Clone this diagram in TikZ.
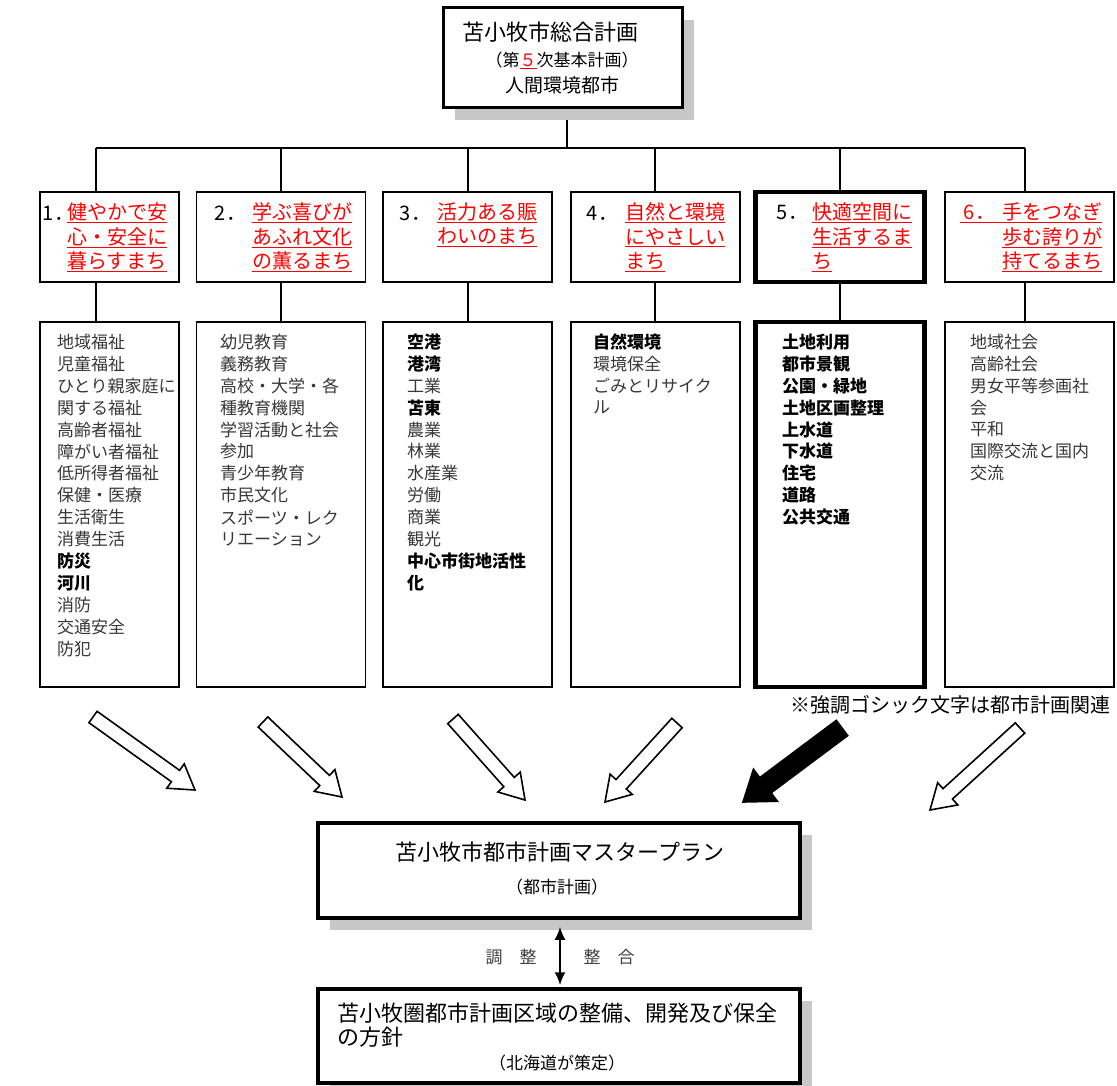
\documentclass[tikz,border=0pt]{standalone}
\usepackage{fontspec}
\setmainfont{Noto Sans CJK JP}
\usetikzlibrary{calc,arrows.meta,shadows}
\tikzset{
  catbox/.style={draw, line width=1.5pt, fill=white, minimum height=90pt, minimum width=169pt, inner sep=0pt},
  listbox/.style={draw, line width=1.5pt, fill=white, minimum height=365pt, minimum width=169pt, inner sep=0pt},
  heavy/.style={line width=4.5pt},
  mainbox/.style={draw, line width=3pt, fill=white, inner sep=0pt,
    general shadow={fill=black!22, shadow xshift=12pt, shadow yshift=-12pt}},
  item/.style={anchor=west, inner sep=0pt, font=\fontsize{17}{22}\selectfont, text=black!78},
  cattext/.style={anchor=west, inner sep=0pt, font=\fontsize{20}{24}\selectfont, text=red},
  catnum/.style={anchor=west, inner sep=0pt, font=\fontsize{20}{24}\selectfont},
  link/.style={line width=2pt},
}
\newcommand{\rl}[1]{\underline{#1}}
\newcommand{\bd}[1]{{\bfseries\color{black}#1}}

\begin{document}
\begin{tikzpicture}[x=1pt,y=-1pt]
  \useasboundingbox (0,0) rectangle (1117,1086);

  % tree lines
  \coordinate (hub) at (567,148);
  \foreach \cx [count=\i] in {96,281,468,655,840,1025}
    \coordinate (t\i) at (\cx,148);
  \draw[link] (t1) -- (t6);
  \draw[link] (hub) -- (567,110);
  \node[catbox, minimum width=139pt] (c1) at (109.5,237) {};
  \node[catbox] (c2) at (281,237) {};
  \node[catbox] (c3) at (467.5,237) {};
  \node[catbox] (c4) at (655.5,237) {};
  \node[catbox, heavy] (c5) at (840,237) {};
  \node[catbox] (c6) at (1029.5,237) {};
  \node[listbox, minimum width=139pt] (l1) at (109.5,504.5) {};
  \node[listbox] (l2) at (281,504.5) {};
  \node[listbox] (l3) at (467.5,504.5) {};
  \node[listbox] (l4) at (655.5,504.5) {};
  \node[listbox, heavy] (l5) at (840,504.5) {};
  \node[listbox] (l6) at (1029.5,504.5) {};
  \foreach \i in {1,...,6} {
    \draw[link] (t\i) -- (t\i |- c\i.north);
    \draw[link] (t\i |- c\i.south) -- (t\i |- l\i.north);
  }

  % top
  \node[mainbox, minimum width=239pt, minimum height=100pt] (top) at (562.5,58) {};
  \node[anchor=west, inner sep=0pt, font=\fontsize{22}{26}\selectfont] (top1) at (462,32) {苫小牧市総合計画};
  \node[inner sep=0pt, font=\fontsize{17}{20}\selectfont] (top2) at (562,60) {（第\textcolor{red}{\rl{５}}次基本計画）};
  \node[inner sep=0pt, font=\fontsize{19}{22}\selectfont] (top3) at (562,85) {人間環境都市};

  % headings
  \foreach \nx/\tx/\num/\lines in {42/67/1/{健やかで安,心・安全に,暮らすまち},
      214/252/2/{学ぶ喜びが,あふれ文化,の薫るまち},
      399/437/3/{活力ある賑,わいのまち},
      586/625/4/{自然と環境,にやさしい,まち},
      776/812/5/{快適空間に,生活するま,ち}} {
    \node[catnum] (n\num) at (\nx,213) {\num\hspace{1pt}．};
    \foreach \ln [count=\j] in \lines
      \node[cattext] (h\num-\j) at (\tx,{213+24.5*(\j-1)}) {\rl{\ln}};
  }
  \node[cattext] (h6-1) at (960,213) {\rl{\makebox[42pt][l]{\,6\hspace{1pt}．}手をつなぎ}};
  \node[cattext] (h6-2) at (1002,237.5) {\rl{歩む誇りが}};
  \node[cattext] (h6-3) at (1002,262) {\rl{持てるまち}};

  % lists
  \foreach \lx/\num/\lines in {57/1/{地域福祉,児童福祉,ひとり親家庭に,関する福祉,高齢者福祉,障がい者福祉,低所得者福祉,保健・医療,生活衛生,消費生活,\bd{防災},\bd{河川},消防,交通安全,防犯},
      220/2/{幼児教育,義務教育,高校・大学・各,種教育機関,学習活動と社会,参加,青少年教育,市民文化,スポーツ・レク,リエーション},
      407/3/{\bd{空港},\bd{港湾},工業,\bd{苫東},農業,林業,水産業,労働,商業,観光,\bd{中心市街地活性},\bd{化}},
      593/4/{\bd{自然環境},環境保全,ごみとリサイク,ル},
      782/5/{\bd{土地利用},\bd{都市景観},\bd{公園・緑地},\bd{土地区画整理},\bd{上水道},\bd{下水道},\bd{住宅},\bd{道路},\bd{公共交通}},
      970/6/{地域社会,高齢社会,男女平等参画社,会,平和,国際交流と国内,交流}} {
    \foreach \ln [count=\j] in \lines
      \node[item] (e\num-\j) at (\lx,{342+21.9*(\j-1)}) {\ln};
  }

  \node[anchor=east, inner sep=0pt, font=\fontsize{20}{24}\selectfont] (note) at (1111,705) {※強調ゴシック文字は都市計画関連};

  % block arrows
  \foreach \xa/\ya/\xb/\yb/\fc/\hw/\hh/\hl [count=\k] in {93/717/195/790/white/7/15/24,
      263/722/342/797/white/7/15/24,
      453/719/525/800/white/7/15/24,
      677/723/605/802/white/7/15/24,
      842/728/743/802/black/9.5/20/28,
      1020/728/930/810/white/7/15/24} {
    \coordinate (s\k) at (\xa,\ya);
    \coordinate (f\k) at (\xb,\yb);
    \coordinate (m\k) at ($(f\k)!\hl pt!(s\k)$);
    \draw[line width=1.6pt, fill=\fc, line join=miter]
      ($(s\k)!\hw pt!90:(f\k)$) -- ($(m\k)!\hw pt!90:(f\k)$) -- ($(m\k)!\hh pt!90:(f\k)$)
      -- (f\k) -- ($(m\k)!\hh pt!-90:(f\k)$) -- ($(m\k)!\hw pt!-90:(f\k)$)
      -- ($(s\k)!\hw pt!-90:(f\k)$) -- cycle;
  }

  % master plan
  \node[mainbox, line width=3.5pt, minimum width=482pt, minimum height=95pt] (mp) at (559,870.5) {};
  \node[inner sep=0pt, font=\fontsize{22}{26}\selectfont] (mp1) at (560,852) {苫小牧市都市計画マスタープラン};
  \node[inner sep=0pt, font=\fontsize{17}{20}\selectfont] (mp2) at (557,887) {（都市計画）};

  \node[mainbox, line width=3.5pt, minimum width=482pt, minimum height=94pt] (hk) at (559,1036) {};
  \node[anchor=west, inner sep=0pt, font=\fontsize{22}{26}\selectfont] (hk1) at (337,1013) {苫小牧圏都市計画区域の整備、開発及び保全};
  \node[anchor=west, inner sep=0pt, font=\fontsize{22}{26}\selectfont] (hk2) at (337,1037) {の方針};
  \node[inner sep=0pt, font=\fontsize{17}{20}\selectfont] (hk3) at (557,1063) {（北海道が策定）};

  \draw[line width=2pt, {Latex[length=13pt,width=11pt]}-{Latex[length=13pt,width=11pt]}]
    ($(mp.south)+(1,7)$) -- ($(hk.north)+(1,-2)$);
  \node[inner sep=0pt, font=\fontsize{17}{20}\selectfont, text=black!75] (adj1) at (511,957) {調　整};
  \node[inner sep=0pt, font=\fontsize{17}{20}\selectfont, text=black!75] (adj2) at (609,957) {整　合};
\end{tikzpicture}
\end{document}
